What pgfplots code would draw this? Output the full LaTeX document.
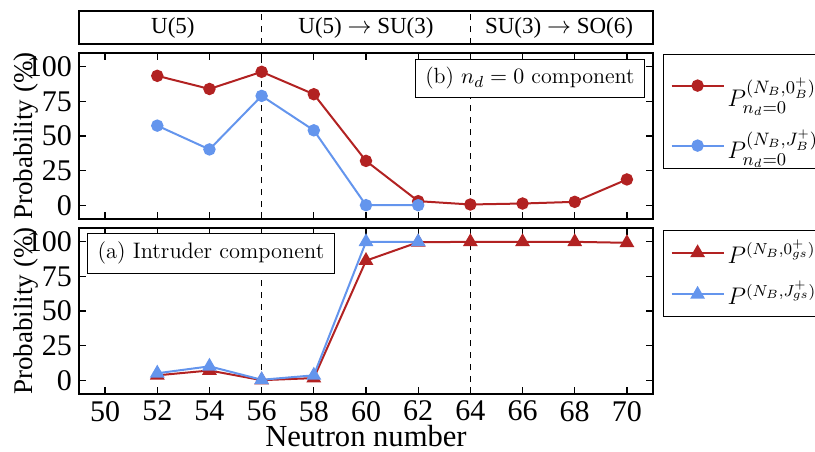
\documentclass[border=0pt]{standalone}
\usepackage{fontspec}
\setmainfont{Liberation Serif}
\usepackage{pgfplots}
\pgfplotsset{compat=1.18}
\definecolor{myred}{HTML}{B22222}
\definecolor{myblue}{HTML}{6495ED}
\begin{document}
\begin{tikzpicture}
\pgfplotsset{
  panel/.style={
    width=287pt, height=83pt, scale only axis,
    xmin=49, xmax=71, ymin=-10, ymax=110,
    xtick={50,52,...,70}, ytick={0,25,50,75,100},
    tick align=inside, tick pos=both,
    major tick length=3.5pt,
    axis line style={line width=0.7pt},
    every tick/.style={line width=0.6pt, black},
    xticklabel={\pgfmathprintnumber[assume math mode=true]{\tick}},
    yticklabel={\pgfmathprintnumber[assume math mode=true]{\tick}},
    tick label style={font=\fontsize{15}{15}\selectfont},
    ylabel={Probability (\%)},
    ylabel style={font=\fontsize{13.5}{14}\selectfont, at={(axis description cs:-0.0923,0.5)}, anchor=center},
    legend cell align=left,
    legend image code/.code={\draw[mark repeat=2,mark phase=2] plot coordinates {(0pt,0pt) (13pt,0pt) (26pt,0pt)};},
  },
  redc/.style={myred, line width=1pt, mark=*, mark size=2.6pt, mark options={solid, fill=myred}},
  bluec/.style={myblue, line width=1pt, mark=*, mark size=2.6pt, mark options={solid, fill=myblue}},
  redt/.style={myred, line width=1pt, mark=triangle*, mark size=3.3pt, mark options={solid, fill=myred}},
  bluet/.style={myblue, line width=1pt, mark=triangle*, mark size=3.3pt, mark options={solid, fill=myblue}},
  vdash/.style={black, dashed, line width=0.6pt, forget plot},
}
% header
\begin{axis}[at={(39.5pt,-5.5pt)}, anchor=north west, width=287pt, height=16.5pt, scale only axis,
  xmin=49, xmax=71, ymin=0, ymax=1, xtick=\empty, ytick=\empty, axis line style={line width=0.7pt}]
  \addplot[vdash] coordinates {(56,0) (56,1)};
  \addplot[vdash] coordinates {(64,0) (64,1)};
  \node[font=\fontsize{11.5}{12}\selectfont] at (axis cs:52.6,0.5) {U(5)};
  \node[font=\fontsize{11.5}{12}\selectfont] at (axis cs:60,0.5) {U(5) $\rightarrow$ SU(3)};
  \node[font=\fontsize{11.5}{12}\selectfont] at (axis cs:67.4,0.5) {SU(3) $\rightarrow$ SO(6)};
\end{axis}
% top panel
\begin{axis}[panel, at={(39.5pt,-26.5pt)}, anchor=north west, xticklabels={},
  legend style={at={(1,1)}, anchor=north west, xshift=5pt, yshift=-0.5pt,
      draw=black, line width=0.6pt, font=\fontsize{12.5}{15}\selectfont,
      inner xsep=3.5pt, inner ysep=1.5pt, row sep=6pt, nodes={inner xsep=1.5pt}}]
  \addplot[vdash] coordinates {(56,-10) (56,110)};
  \addplot[vdash] coordinates {(64,-10) (64,110)};
  \addplot[redc] coordinates {(52,93.5) (54,84) (56,96.4) (58,80.2) (60,32) (62,2.9) (64,0.5) (66,1.2) (68,2.4) (70,18.6)};
  \addlegendentry{\rule{0pt}{22.5pt}$P_{n_d=0}^{(N_B,0_B^+)}$}
  \addplot[bluec] coordinates {(52,57.5) (54,40.3) (56,79) (58,54.1) (60,0) (62,0)};
  \addlegendentry{$P_{n_d=0}^{(N_B,J_B^+)}$}
  \node[draw, fill=white, line width=0.6pt, anchor=north east, inner xsep=5pt, inner ysep=3pt,
    font=\fontfamily{lmr}\selectfont\fontsize{11}{13}\selectfont]
    at ([xshift=-4pt,yshift=-3pt]rel axis cs:1,1) {\strut(b) $n_d=0$ component};
\end{axis}
% bottom panel
\begin{axis}[panel, at={(39.5pt,-114pt)}, anchor=north west,
  xlabel={Neutron number}, xlabel style={font=\fontsize{15.3}{16}\selectfont, at={(axis description cs:0.5,-0.255)}, anchor=center, inner sep=0pt},
  legend style={at={(1,1)}, anchor=north west, xshift=5pt, yshift=-1pt,
      draw=black, line width=0.6pt, font=\fontsize{12}{15}\selectfont,
      inner xsep=3.5pt, inner ysep=2.5pt, row sep=3.5pt, nodes={inner xsep=1.5pt}}]
  \addplot[vdash] coordinates {(56,-10) (56,110)};
  \addplot[vdash] coordinates {(64,-10) (64,110)};
  \addplot[redt] coordinates {(52,3.5) (54,7) (56,0) (58,1.5) (60,86.4) (62,99.7) (64,100) (66,100) (68,100) (70,99.3)};
  \addlegendentry{$P^{(N_B,0_{gs}^+)}$}
  \addplot[bluet] coordinates {(52,5) (54,10) (56,0.3) (58,3.5) (60,100) (62,100)};
  \addlegendentry{$P^{(N_B,J_{gs}^+)}$}
  \node[draw, fill=white, line width=0.6pt, anchor=north west, inner xsep=5pt, inner ysep=3.5pt,
    font=\fontfamily{lmr}\selectfont\fontsize{11.2}{13}\selectfont]
    at ([xshift=4pt,yshift=-2.5pt]rel axis cs:0,1) {\strut(a) Intruder component};
\end{axis}
\pgfresetboundingbox
\path (0pt,0pt) rectangle (407.5pt,-225.5pt);
\end{tikzpicture}
\end{document}
